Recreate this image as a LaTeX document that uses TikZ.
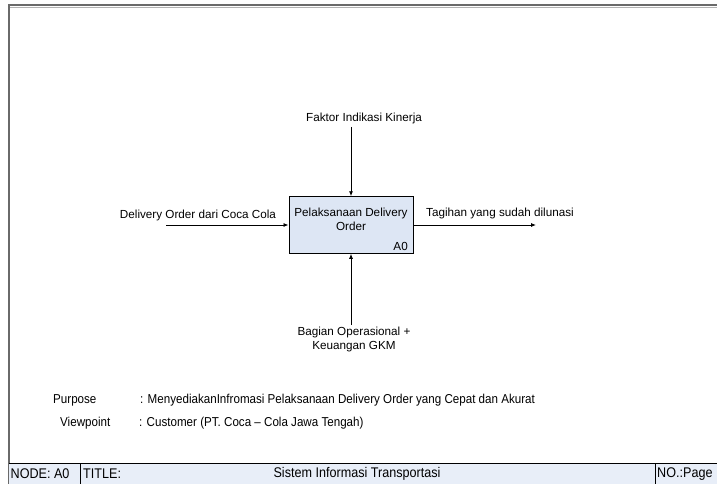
\documentclass[tikz,border=0pt]{standalone}
\usepackage{fontspec}
\setmainfont{Liberation Sans}
\newfontfamily\tallfont[FakeStretch=0.9,Ligatures=TeX]{Liberation Sans}
\usetikzlibrary{arrows.meta}
\definecolor{boxfill}{HTML}{DDE6F4}
\definecolor{bandfill}{HTML}{E8EEF8}
\definecolor{framegray}{HTML}{6A6A6A}
\begin{document}
\begin{tikzpicture}[x=1pt,y=-1pt,
  lbl/.style={font=\fontsize{11.7}{14}\selectfont, inner sep=0pt, align=center},
  note/.style={font=\tallfont\fontsize{12.9}{14}\selectfont, inner sep=0pt, anchor=west},
  foot/.style={font=\tallfont\fontsize{14}{14}\selectfont, inner sep=0pt},
  flow/.style={draw=black, line width=0.8pt, -{Latex[length=5pt,width=4pt]}},
  activity/.style={draw=black, line width=1pt, fill=boxfill, minimum width=124pt, minimum height=56.5pt, inner sep=0pt}]
\useasboundingbox (0,0) rectangle (717,484);
\fill[white] (0,0) rectangle (717,484);

% drawing frame
\draw[gray!60, line width=1pt] (9,7.2) -- (717,7.2);
\draw[framegray, line width=2pt] (8.5,484) -- (8.5,5.5) -- (717,5.5);

% title band
\fill[bandfill] (9,463) rectangle (717,484);
\draw[black, line width=0.8pt] (9,463) -- (717,463);
\draw[black, line width=0.8pt] (80,463) -- (80,484);
\draw[black, line width=0.8pt] (655,463) -- (655,484);
\node[foot, anchor=west] (nd) at (10.5,474) {NODE: A0};
\node[foot, anchor=west] (tt) at (83,474) {TITLE:};
\node[foot] (ti) at (357,474) {Sistem Informasi Transportasi};
\node[foot, anchor=west] (no) at (657,474) {NO.:Page};

% activity box
\node[activity] (a0) at (351,225) {};
\node[lbl] (a0t) at (351,219) {Pelaksanaan Delivery\\Order};
\node[lbl, anchor=south east] (a0n) at (408,251) {A0};

% input
\coordinate (in) at (166,225);
\draw[flow] (in) -- (a0.west);
\node[lbl] (inl) at (198,215) {Delivery Order dari Coca Cola};

% output
\coordinate (out) at (536,225);
\draw[flow] (a0.east) -- (out);
\node[lbl] (outl) at (500,213) {Tagihan yang sudah dilunasi};

% control
\coordinate (ctl) at (351,127);
\draw[flow] (ctl) -- (a0.north);
\node[lbl] (ctll) at (364,118) {Faktor Indikasi Kinerja};

% mechanism
\coordinate (mec) at (351,325);
\draw[flow] (mec) -- (a0.south);
\node[lbl] (mecl) at (354,339) {Bagian Operasional +\\Keuangan GKM};

% purpose and viewpoint
\node[note] (pk) at (53,400) {Purpose};
\node[note] (pv) at (140,400) {: MenyediakanInfromasi Pelaksanaan Delivery Order yang Cepat dan Akurat};
\node[note] (vk) at (60,423) {Viewpoint};
\node[note] (vv) at (139,423) {: Customer (PT. Coca – Cola Jawa Tengah)};
\end{tikzpicture}
\end{document}
